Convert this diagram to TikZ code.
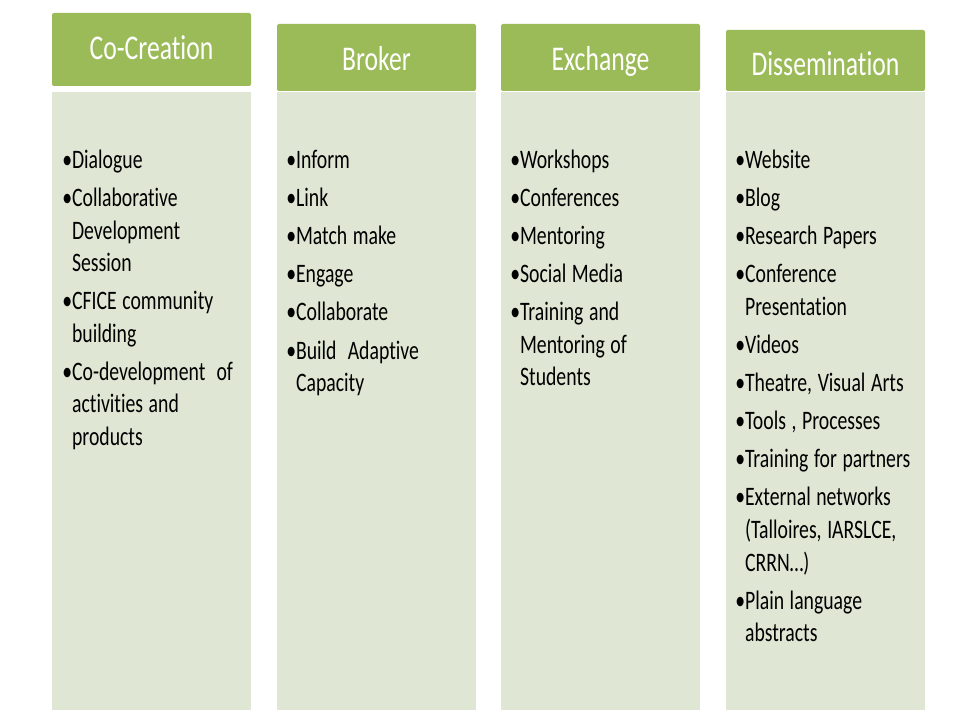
\documentclass[tikz,border=0pt]{standalone}
\usepackage{fontspec}
\setmainfont[FakeStretch=0.74,Ligatures=NoCommon]{Carlito}
\definecolor{headgreen}{HTML}{9BBB59}
\definecolor{bodygreen}{HTML}{DFE7D4}
\newcommand{\bitem}[1]{\par\spaceskip=4.2pt\xspaceskip=4.2pt\setbox0=\hbox{•}\hangindent=\wd0 \hangafter=1 \noindent•#1\par}
\begin{document}
\begin{tikzpicture}[x=0.75pt,y=0.75pt,
		head/.style={fill=headgreen,rounded corners=1.5pt},
		body/.style={fill=bodygreen},
		title/.style={anchor=base,text=white,font=\fontsize{26pt}{30pt}\selectfont},
		list/.style={anchor=north west,inner sep=0pt,text width=145pt,align=left,font=\fontsize{20pt}{24.4pt}\selectfont\setlength{\parskip}{4.2pt}}]
	\useasboundingbox[fill=white] (0,0) rectangle (960,-720);
	\fill[head] (52,-13) rectangle (251,-86);
	\fill[head] (277,-24) rectangle (476,-91);
	\fill[head] (501,-24) rectangle (700,-91);
	\fill[head] (726,-30) rectangle (925,-91);
	\fill[body] (52,-92) rectangle (251,-710);
	\fill[body] (277,-92) rectangle (476,-710);
	\fill[body] (501,-92) rectangle (700,-710);
	\fill[body] (726,-92) rectangle (925,-710);
	\node[title] (cocreation) at (151.5,-60) {Co-Creation};
	\node[title] (broker) at (376.5,-71) {Broker};
	\node[title] (exchange) at (600.5,-71) {Exchange};
	\node[title] (dissemination) at (825.5,-76) {Dissemination};
	\node[list] (cocreationlist) at (62,-130) {\bitem{Dialogue}\bitem{Collaborative\newline Development\newline Session}\bitem{CFICE community\newline building}\bitem{Co-development \ of\newline activities and\newline products}};
	\node[list] (brokerlist) at (286,-130) {\bitem{Inform}\bitem{Link}\bitem{Match make}\bitem{Engage}\bitem{Collaborate}\bitem{Build \ Adaptive\newline Capacity}};
	\node[list] (exchangelist) at (510,-130) {\bitem{Workshops}\bitem{Conferences}\bitem{Mentoring}\bitem{Social Media}\bitem{Training and\newline Mentoring of\newline Students}};
	\node[list] (disseminationlist) at (735,-130) {\bitem{Website}\bitem{Blog}\bitem{Research Papers}\bitem{Conference\newline Presentation}\bitem{Videos}\bitem{Theatre, Visual Arts}\bitem{Tools , Processes}\bitem{Training for partners}\bitem{External networks\newline (Talloires, IARSLCE,\newline CRRN…)}\bitem{Plain language\newline abstracts}};
\end{tikzpicture}
\end{document}
